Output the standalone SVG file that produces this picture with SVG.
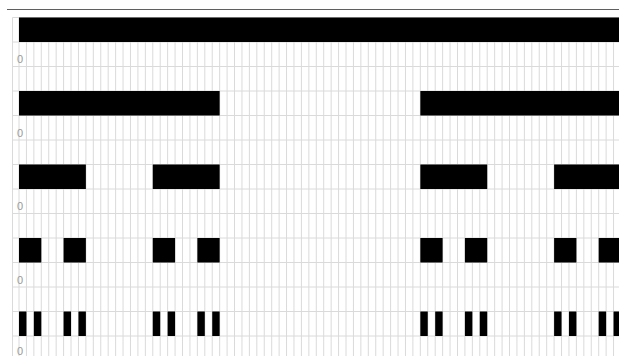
<svg xmlns="http://www.w3.org/2000/svg" width="619" height="356" viewBox="0 0 619 356">
  <style>
    .grid { stroke: #dadada; stroke-width: 1; fill: none; vector-effect: non-scaling-stroke; }
    .bar { fill: #000; }
    .lbl { font-family: "Liberation Sans", Arial, sans-serif; font-size: 11px; fill: #999; }
    .rule { stroke: #5f5f5f; stroke-width: 1; }
  </style>
  <rect width="619" height="356" fill="#fff"/>
  <line class="rule" x1="7" y1="9.5" x2="619" y2="9.5"/>
  <g id="grid">
    <line class="grid" x1="12.5" y1="17.5" x2="12.5" y2="356"/>
    <path class="grid" transform="translate(19,0) scale(7.432,1)" d="M0 17.5V356M1 17.5V356M2 17.5V356M3 17.5V356M4 17.5V356M5 17.5V356M6 17.5V356M7 17.5V356M8 17.5V356M9 17.5V356M10 17.5V356M11 17.5V356M12 17.5V356M13 17.5V356M14 17.5V356M15 17.5V356M16 17.5V356M17 17.5V356M18 17.5V356M19 17.5V356M20 17.5V356M21 17.5V356M22 17.5V356M23 17.5V356M24 17.5V356M25 17.5V356M26 17.5V356M27 17.5V356M28 17.5V356M29 17.5V356M30 17.5V356M31 17.5V356M32 17.5V356M33 17.5V356M34 17.5V356M35 17.5V356M36 17.5V356M37 17.5V356M38 17.5V356M39 17.5V356M40 17.5V356M41 17.5V356M42 17.5V356M43 17.5V356M44 17.5V356M45 17.5V356M46 17.5V356M47 17.5V356M48 17.5V356M49 17.5V356M50 17.5V356M51 17.5V356M52 17.5V356M53 17.5V356M54 17.5V356M55 17.5V356M56 17.5V356M57 17.5V356M58 17.5V356M59 17.5V356M60 17.5V356M61 17.5V356M62 17.5V356M63 17.5V356M64 17.5V356M65 17.5V356M66 17.5V356M67 17.5V356M68 17.5V356M69 17.5V356M70 17.5V356M71 17.5V356M72 17.5V356M73 17.5V356M74 17.5V356M75 17.5V356M76 17.5V356M77 17.5V356M78 17.5V356M79 17.5V356M80 17.5V356"/>
    <path class="grid" d="M12.5 17.5H619M12.5 42H619M12.5 66.5H619M12.5 91H619M12.5 115.5H619M12.5 140H619M12.5 164.5H619M12.5 189H619M12.5 213.5H619M12.5 238H619M12.5 262.5H619M12.5 287H619M12.5 311.5H619M12.5 336H619"/>
  </g>
  <g id="row1">
    <g transform="translate(19,0) scale(7.432,1)">
      <rect class="bar" x="0" y="17.5" width="81" height="24.5"/>
    </g>
    <text class="lbl" x="17" y="63">0</text>
  </g>
  <g id="row2">
    <g transform="translate(19,0) scale(7.432,1)">
      <rect class="bar" x="0" y="91" width="27" height="24.5"/>
      <rect class="bar" x="54" y="91" width="27" height="24.5"/>
    </g>
    <text class="lbl" x="17" y="136.5">0</text>
  </g>
  <g id="row3">
    <g transform="translate(19,0) scale(7.432,1)">
      <rect class="bar" x="0" y="164.5" width="9" height="24.5"/>
      <rect class="bar" x="18" y="164.5" width="9" height="24.5"/>
      <rect class="bar" x="54" y="164.5" width="9" height="24.5"/>
      <rect class="bar" x="72" y="164.5" width="9" height="24.5"/>
    </g>
    <text class="lbl" x="17" y="210">0</text>
  </g>
  <g id="row4">
    <g transform="translate(19,0) scale(7.432,1)">
      <rect class="bar" x="0" y="238" width="3" height="24.5"/>
      <rect class="bar" x="6" y="238" width="3" height="24.5"/>
      <rect class="bar" x="18" y="238" width="3" height="24.5"/>
      <rect class="bar" x="24" y="238" width="3" height="24.5"/>
      <rect class="bar" x="54" y="238" width="3" height="24.5"/>
      <rect class="bar" x="60" y="238" width="3" height="24.5"/>
      <rect class="bar" x="72" y="238" width="3" height="24.5"/>
      <rect class="bar" x="78" y="238" width="3" height="24.5"/>
    </g>
    <text class="lbl" x="17" y="283.5">0</text>
  </g>
  <g id="row5">
    <g transform="translate(19,0) scale(7.432,1)">
      <rect class="bar" x="0" y="311.5" width="1" height="24.5"/>
      <rect class="bar" x="2" y="311.5" width="1" height="24.5"/>
      <rect class="bar" x="6" y="311.5" width="1" height="24.5"/>
      <rect class="bar" x="8" y="311.5" width="1" height="24.5"/>
      <rect class="bar" x="18" y="311.5" width="1" height="24.5"/>
      <rect class="bar" x="20" y="311.5" width="1" height="24.5"/>
      <rect class="bar" x="24" y="311.5" width="1" height="24.5"/>
      <rect class="bar" x="26" y="311.5" width="1" height="24.5"/>
      <rect class="bar" x="54" y="311.5" width="1" height="24.5"/>
      <rect class="bar" x="56" y="311.5" width="1" height="24.5"/>
      <rect class="bar" x="60" y="311.5" width="1" height="24.5"/>
      <rect class="bar" x="62" y="311.5" width="1" height="24.5"/>
      <rect class="bar" x="72" y="311.5" width="1" height="24.5"/>
      <rect class="bar" x="74" y="311.5" width="1" height="24.5"/>
      <rect class="bar" x="78" y="311.5" width="1" height="24.5"/>
      <rect class="bar" x="80" y="311.5" width="1" height="24.5"/>
    </g>
    <text class="lbl" x="17" y="355">0</text>
  </g>
</svg>
